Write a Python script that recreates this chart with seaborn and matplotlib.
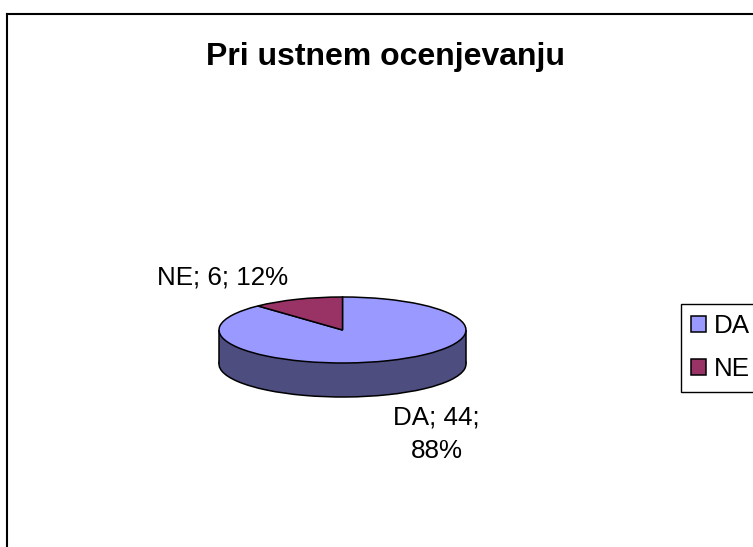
import matplotlib
matplotlib.use('Agg')
import matplotlib.pyplot as plt
import seaborn as sns
from matplotlib.lines import Line2D
from matplotlib.patches import Rectangle

categories = ['DA', 'NE']
counts = [44, 6]
percents = [88, 12]
chart_title = 'Pri ustnem ocenjevanju'

W, H = 753, 547
top_colors = sns.color_palette(['#9999FF', '#993366'])
side_color = '#4D4D80'

sns.set_theme(style='white')
plt.rcParams['font.family'] = ['Liberation Sans', 'DejaVu Sans']

fig = plt.figure(figsize=(W / 100, H / 100), dpi=100, facecolor='white')

def fx(px):
    return px / W

def fy(py):
    return 1 - py / H

# outer frame, only left and top fall inside the picture
fig.add_artist(Line2D([fx(7), fx(7)], [0, fy(14)], color='black', lw=1.5, solid_capstyle='projecting'))
fig.add_artist(Line2D([fx(7), 1], [fy(14), fy(14)], color='black', lw=1.5, solid_capstyle='projecting'))

# pie box in pixels: top ellipse 219-466 / 297-363, rim goes down to 397
left, right, top, bottom = 219, 466, 297, 397
ax = fig.add_axes([fx(left), fy(bottom), fx(right - left), (bottom - top) / H])
depth = 34 / 33

edge = dict(edgecolor='black', linewidth=1.1)
# rim: same pie pushed down, then the block between the two
ax.pie(counts, colors=[side_color, side_color], center=(0, -depth), radius=1,
       startangle=90, counterclock=False, wedgeprops=edge)
ax.add_patch(Rectangle((-1, -depth), 2, depth, facecolor=side_color, edgecolor='none', zorder=2))
ax.add_patch(Rectangle((-0.5, -depth - 0.15), 1, 0.2, facecolor=side_color, edgecolor='none', zorder=2))
ax.plot([-1, -1], [-depth, 0], color='black', lw=1.1, solid_capstyle='butt', zorder=3)
ax.plot([1, 1], [-depth, 0], color='black', lw=1.1, solid_capstyle='butt', zorder=3)
wedges, _ = ax.pie(counts, colors=top_colors, center=(0, 0), radius=1,
                   startangle=90, counterclock=False,
                   wedgeprops=dict(edgecolor='black', linewidth=1.1, zorder=4))
ax.set_aspect('auto')
ax.set_xlim(-1, 1)
ax.set_ylim(-1 - depth, 1)
for a in ax.get_children():
    a.set_clip_on(False)
ax.axis('off')

fig.text(fx(386), fy(57), chart_title, fontsize=23, fontweight='bold',
         ha='center', va='center', color='black')

fig.text(fx(223), fy(278), f'{categories[1]}; {counts[1]}; {percents[1]}%',
         fontsize=18.7, ha='center', va='center', color='black')
fig.text(fx(436.5), fy(434), f'{categories[0]}; {counts[0]};\n{percents[0]}%',
         fontsize=18.7, ha='center', va='center', color='black', linespacing=1.5)

leg = fig.legend(wedges, categories, loc='upper left',
                 bbox_to_anchor=(fx(681), fy(304)), borderaxespad=0,
                 fancybox=False, framealpha=1, edgecolor='black',
                 prop=dict(size=18.7), labelcolor='black',
                 handlelength=0.56, handleheight=0.56,
                 handletextpad=0.3, labelspacing=0.73, borderpad=0.4)
leg.get_frame().set_linewidth(1)

fig.savefig('out.png', dpi=100)
